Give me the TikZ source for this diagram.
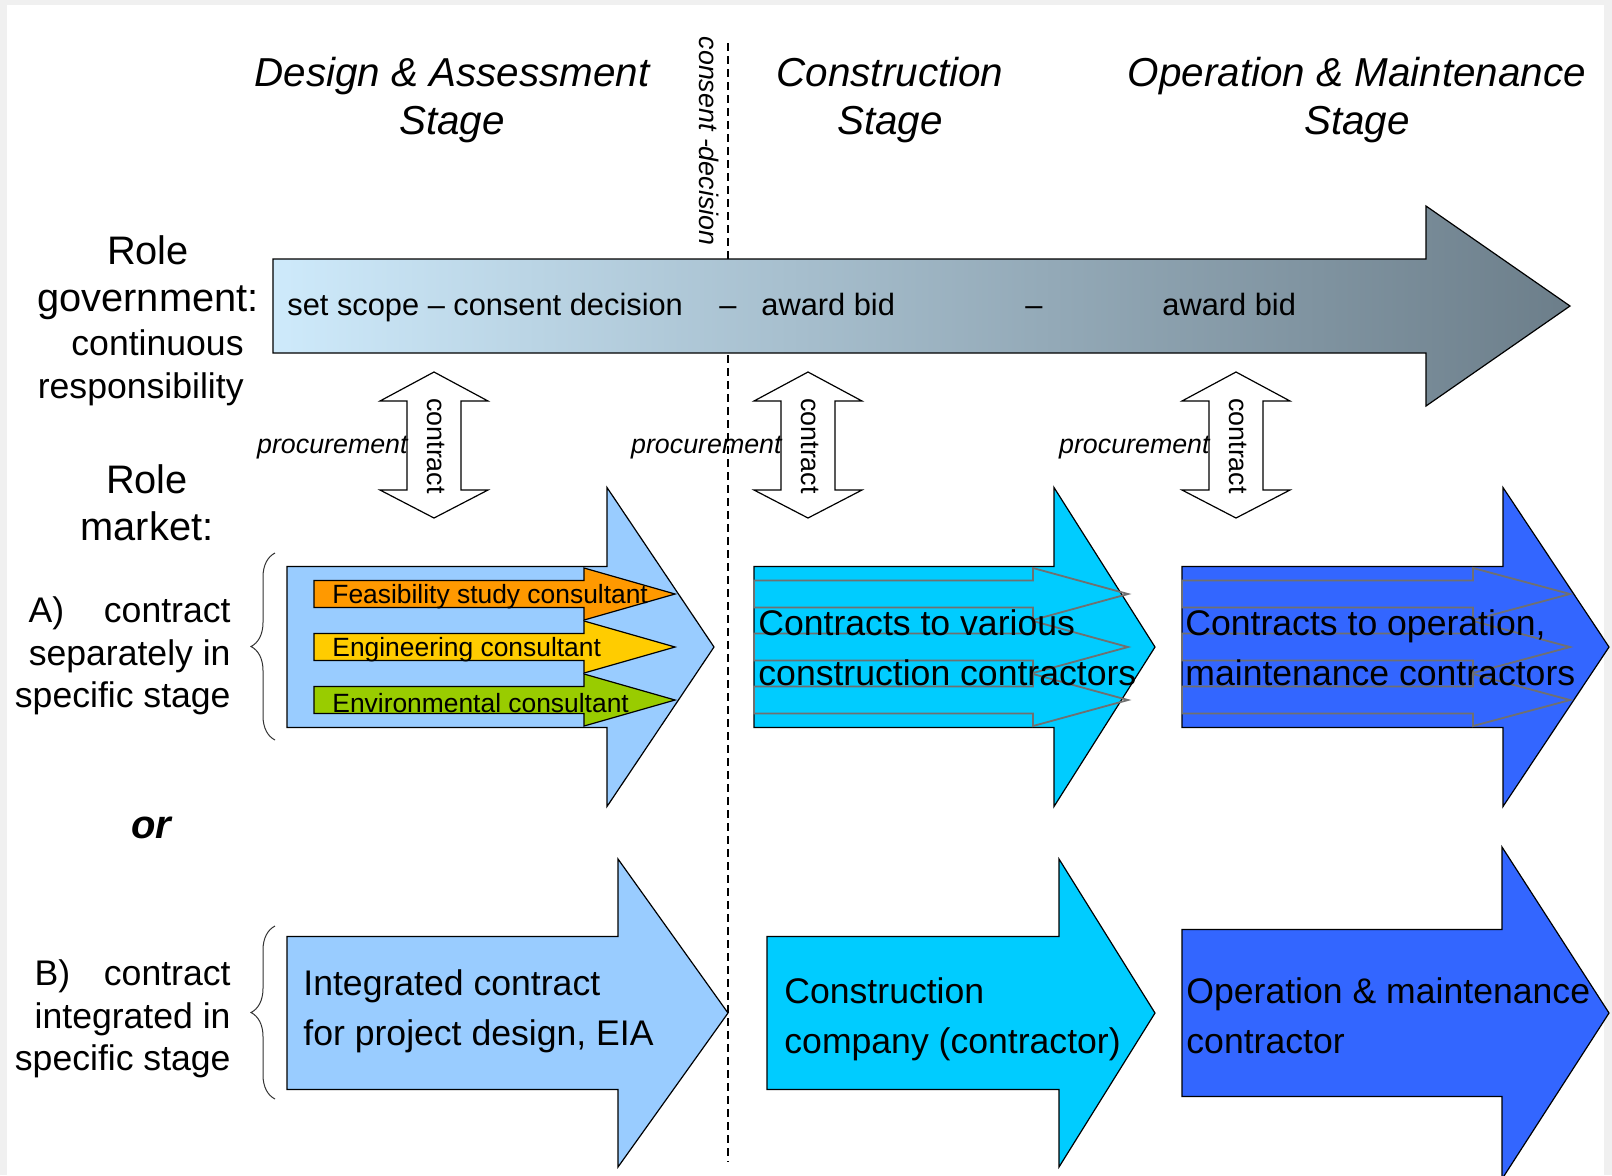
\documentclass[tikz,border=0pt]{standalone}
\usepackage{fontspec}
\setmainfont{Liberation Sans}
\usepackage{calc}
\usetikzlibrary{positioning, calc, decorations.pathreplacing}

\definecolor{govleft}{RGB}{206,234,251}
\definecolor{govright}{RGB}{108,126,138}
\definecolor{designblue}{RGB}{153,204,255}
\definecolor{buildcyan}{RGB}{0,204,255}
\definecolor{operblue}{RGB}{51,102,255}
\definecolor{feasorange}{RGB}{255,153,0}
\definecolor{enggold}{RGB}{255,204,0}
\definecolor{envgreen}{RGB}{153,204,0}
\definecolor{framegray}{RGB}{240,240,240}
\definecolor{subgray}{RGB}{112,112,112}

\tikzstyle{stagetitle} = [inner sep=0pt, align=center, font=\fontsize{20.2}{24}\selectfont\itshape]
\tikzstyle{rolelbl} = [inner sep=0pt, align=center, font=\fontsize{19.9}{23.5}\selectfont]
\tikzstyle{optlbl} = [inner sep=0pt, align=right, font=\fontsize{17.8}{21.3}\selectfont]
\tikzstyle{govtext} = [inner sep=0pt, anchor=base west, font=\fontsize{15.4}{18}\selectfont]
\tikzstyle{boxtext} = [inner sep=0pt, anchor=west, align=left, font=\fontsize{17.8}{25}\selectfont]
\tikzstyle{consultant} = [inner sep=0pt, anchor=west, font=\fontsize{13.2}{15}\selectfont]
\tikzstyle{italiclbl} = [inner sep=0pt, font=\fontsize{13.4}{15}\selectfont\itshape]
\tikzstyle{uprightlbl} = [inner sep=0pt, font=\fontsize{13.4}{15}\selectfont]
\tikzstyle{outline} = [draw=black, line width=0.6pt]
\tikzstyle{subarrow} = [draw=subgray, line width=0.9pt]
\tikzstyle{bracket} = [draw=black!80, decorate, decoration={brace, amplitude=12pt}, line width=0.5pt]

% block arrow: style, body left, head base, tip, centre, half body, half head
\newcommand{\blockarrow}[7]{\path[#1] (#2,#5-#6) -- (#3,#5-#6) -- (#3,#5-#7) -- (#4,#5) -- (#3,#5+#7) -- (#3,#5+#6) -- (#2,#5+#6) -- cycle;}
% vertical double arrow between government and market
\newcommand{\contractarrow}[1]{\path[outline, fill=white] (#1,372) -- (#1+54,401) -- (#1+27,401) -- (#1+27,490) -- (#1+54,490) -- (#1,518) -- (#1-54,490) -- (#1-27,490) -- (#1-27,401) -- (#1-54,401) -- cycle;}

\begin{document}
\begin{tikzpicture}[x=0.5pt, y=-0.5pt]
    \fill[framegray] (0,0) rectangle (1612,1175);
    \fill[white] (7,5) rectangle (1604,1175);
    \useasboundingbox (0,0) rectangle (1612,1175);

    \node[stagetitle] (design) at (452,100) {Design \& Assessment\\Stage};
    \node[stagetitle] (build) at (890,100) {Construction\\Stage};
    \node[stagetitle] (operate) at (1357,100) {Operation \& Maintenance\\Stage};

    \coordinate (cuttop) at (728,43);
    \coordinate (cutbot) at (728,1162);
    \draw[dash pattern=on 4pt off 2.5pt, line width=0.6pt] (cuttop) -- (cutbot);
    \node[italiclbl, rotate=-90] (consent) at (709,141) {consent -decision};

    % government
    \blockarrow{outline, left color=govleft, right color=govright}{273}{1426}{1570}{306}{47}{100}
    \node[govtext] (scope) at (287,315) {set scope – consent decision};
    \node[govtext] (dashA) at (719,315) {–};
    \node[govtext] (bidA) at (761,315) {award bid};
    \node[govtext] (dashB) at (1025,315) {–};
    \node[govtext] (bidB) at (1162,315) {award bid};

    \node[rolelbl] (govrole) at (148,278) {Role\\government:};
    \node[optlbl, anchor=east] (govresp) at (244,368) {continuous\\responsibility};
    \node[rolelbl] (mktrole) at (147,503) {Role\\market:};

    % procurement / contract
    \coordinate (dblA) at (434,448);
    \coordinate (dblB) at (808,448);
    \coordinate (dblC) at (1236,448);
    \contractarrow{434}
    \contractarrow{808}
    \contractarrow{1236}
    \node[uprightlbl, rotate=-90] (ctrA) at ($(dblA)+(2,-2)$) {contract};
    \node[uprightlbl, rotate=-90] (ctrB) at ($(dblB)+(2,-2)$) {contract};
    \node[uprightlbl, rotate=-90] (ctrC) at ($(dblC)+(2,-2)$) {contract};
    \node[italiclbl, left=26 of dblA] (procA) {procurement};
    \node[italiclbl, left=26 of dblB] (procB) {procurement};
    \node[italiclbl, left=26 of dblC] (procC) {procurement};

    % option A
    \node[optlbl, anchor=east] (optA) at (231,656) {\makebox[\widthof{separately in}]{A)\hfill contract}\\separately in\\specific stage};
    \draw[bracket] (275,740) -- (275,553);
    \blockarrow{outline, fill=designblue}{287}{607}{714}{647}{80.5}{159.5}
    \blockarrow{outline, fill=feasorange}{314}{584}{675}{594}{13.5}{26}
    \blockarrow{outline, fill=enggold}{314}{584}{675}{647}{13.5}{26}
    \blockarrow{outline, fill=envgreen}{314}{584}{675}{700}{13.5}{26}
    \node[consultant] (feas) at (332,597) {Feasibility study consultant};
    \node[consultant] (eng) at (332,650) {Engineering consultant};
    \node[consultant] (env) at (332,703) {Environmental consultant};

    \blockarrow{outline, fill=buildcyan}{754}{1054}{1155}{647}{80.5}{159.5}
    \blockarrow{subarrow}{754}{1033}{1128}{594}{13.5}{26}
    \blockarrow{subarrow}{754}{1033}{1128}{647}{13.5}{26}
    \blockarrow{subarrow}{754}{1033}{1128}{700}{13.5}{26}
    \node[boxtext] (buildA) at (758,648) {Contracts to various\\construction contractors};

    \blockarrow{outline, fill=operblue}{1182}{1503}{1609}{647}{80.5}{159.5}
    \blockarrow{subarrow}{1182}{1473}{1570}{594}{13.5}{26}
    \blockarrow{subarrow}{1182}{1473}{1570}{647}{13.5}{26}
    \blockarrow{subarrow}{1182}{1473}{1570}{700}{13.5}{26}
    \node[boxtext] (operA) at (1185,648) {Contracts to operation,\\maintenance contractors};

    \node[rolelbl, font=\fontsize{20}{24}\selectfont\bfseries\itshape] (orlbl) at (151,828) {or};

    % option B
    \node[optlbl, anchor=east] (optB) at (231,1019) {\makebox[\widthof{integrated in}]{B)\hfill contract}\\integrated in\\specific stage};
    \draw[bracket] (275,1099) -- (275,926);
    \blockarrow{outline, fill=designblue}{287}{618}{728}{1013}{76.5}{154}
    \node[boxtext] (designB) at (303,1011) {Integrated contract\\for project design, EIA};
    \blockarrow{outline, fill=buildcyan}{767}{1059}{1155}{1013}{76.5}{154}
    \node[boxtext] (buildB) at (784,1019) {Construction\\company (contractor)};
    \blockarrow{outline, fill=operblue}{1182}{1502}{1609}{1013}{83.5}{166}
    \node[boxtext] (operB) at (1186,1016) {Operation \& maintenance\\contractor};
\end{tikzpicture}
\end{document}
